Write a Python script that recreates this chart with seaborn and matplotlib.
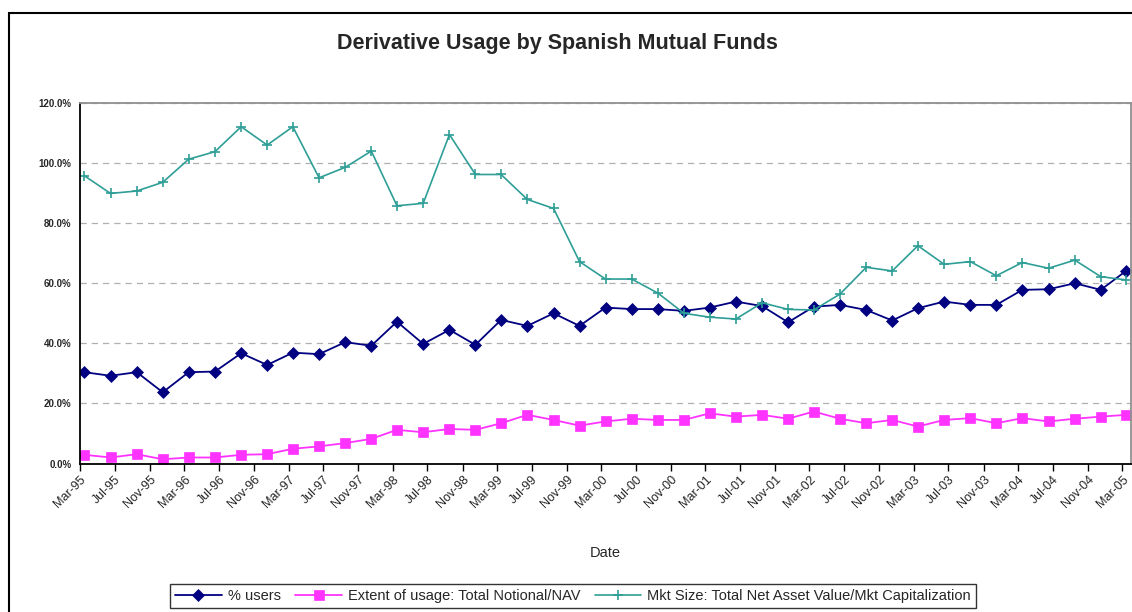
import matplotlib
matplotlib.use("Agg")
import matplotlib.pyplot as plt
import matplotlib.dates as mdates
from matplotlib.patches import Rectangle
from matplotlib.ticker import FuncFormatter, MultipleLocator
import seaborn as sns
import pandas as pd
import numpy as np

# ---- data (quarterly, Mar-95 .. Mar-05) ----
quarters = pd.date_range("1995-03-01", "2005-03-01", freq="3MS")
pct_users = [30.4, 29.2, 30.4, 23.7, 30.4, 30.6, 36.7, 32.8, 36.9, 36.4,
             40.4, 39.2, 47.2, 39.8, 44.5, 39.5, 47.8, 45.8, 50.0, 45.8,
             51.9, 51.4, 51.4, 50.8, 51.9, 53.9, 52.4, 47.0, 52.2, 52.8,
             51.1, 47.6, 51.7, 53.9, 52.8, 52.8, 57.8, 58.0, 60.0, 57.8, 64.2]
extent_usage = [2.9, 2.0, 3.1, 1.4, 2.0, 2.0, 2.9, 3.1, 4.9, 5.7,
                6.8, 8.2, 11.2, 10.4, 11.5, 11.2, 13.4, 16.2, 14.5, 12.6,
                14.0, 14.9, 14.5, 14.5, 16.7, 15.6, 16.2, 14.9, 17.3, 14.9,
                13.4, 14.5, 12.3, 14.5, 15.1, 13.4, 15.1, 14.0, 14.9, 15.6, 16.2]
mkt_size = [95.8, 89.9, 90.7, 93.6, 101.3, 103.8, 112.1, 106.0, 112.1, 95.1,
            98.6, 104.0, 85.8, 86.6, 109.5, 96.2, 96.2, 87.9, 84.9, 67.2,
            61.4, 61.4, 56.7, 50.0, 48.7, 48.1, 53.5, 51.3, 51.1, 56.4,
            65.3, 64.1, 72.5, 66.3, 67.2, 62.5, 66.9, 65.0, 67.7, 62.2, 61.1]
series_names = ["% users", "Extent of usage: Total Notional/NAV",
                "Mkt Size: Total Net Asset Value/Mkt Capitalization"]

df = pd.DataFrame({"Date": quarters + pd.Timedelta(days=15),
                   series_names[0]: pct_users,
                   series_names[1]: extent_usage,
                   series_names[2]: mkt_size})

sns.set_style("white")
plt.rcParams["font.family"] = ["Liberation Sans", "DejaVu Sans"]

W, H = 1132, 612
fig = plt.figure(figsize=(W / 100, H / 100), dpi=100)
ax = fig.add_axes([80 / W, 1 - 463.5 / H, (1131 - 80) / W, (463.5 - 103) / H])

colors = ["#000080", "#FF33FF", "#2E9E96"]
markers = ["D", "s", "+"]
msizes = [6.5, 7, 7]
lws = [1.3, 1.3, 1.2]
for name, c, m, ms, lw in zip(series_names, colors, markers, msizes, lws):
    sns.lineplot(data=df, x="Date", y=name, ax=ax, color=c, marker=m,
                 markersize=ms, linewidth=lw, markeredgecolor=c,
                 markeredgewidth=1.2 if m == "+" else 0.5, label=name)

ax.set_xlim(pd.Timestamp("1995-03-01"), pd.Timestamp("2005-04-01"))
ax.set_ylim(0, 120)
ax.yaxis.set_major_locator(MultipleLocator(20))
ax.yaxis.set_major_formatter(FuncFormatter(lambda v, p: f"{v:.1f}%"))
ax.xaxis.set_major_locator(mdates.MonthLocator(bymonth=[3, 7, 11]))
ax.xaxis.set_major_formatter(mdates.DateFormatter("%b-%y"))

ax.grid(axis="y", color="#b0b0b0", linestyle=(0, (5, 4)), linewidth=0.9)
ax.grid(axis="x", visible=False)
for s in ["left", "bottom"]:
    ax.spines[s].set_color("black")
    ax.spines[s].set_linewidth(1.3)
for s in ["top", "right"]:
    ax.spines[s].set_color("#909090")
    ax.spines[s].set_linewidth(1.3)

ax.tick_params(axis="y", direction="out", length=4, width=1, color="black",
               labelsize=7, pad=2)
ax.tick_params(axis="x", direction="out", length=5, width=1, color="black",
               labelsize=9, pad=2, bottom=True)
for t in ax.get_yticklabels():
    t.set_fontweight("bold")
plt.setp(ax.get_xticklabels(), rotation=45, ha="right", rotation_mode="anchor")

ax.set_ylabel("")
ax.set_xlabel("Date", fontsize=10.5, labelpad=26)

fig.suptitle("Derivative Usage by Spanish Mutual Funds", x=557 / W, y=1 - 44 / H,
             fontsize=15.5, fontweight="bold", va="center")

leg = ax.legend(loc="center", bbox_to_anchor=(573 / W, 1 - 596 / H),
                bbox_transform=fig.transFigure, ncol=3, fontsize=10.5,
                frameon=True, fancybox=False, edgecolor="black",
                handlelength=3.2, columnspacing=1.0, handletextpad=0.4,
                borderpad=0.35)
leg.get_frame().set_linewidth(1.0)

fig.patches.append(Rectangle((8.5 / W, -0.01), 1.0, 1 - 12.5 / H + 0.01,
                             transform=fig.transFigure, fill=False,
                             edgecolor="black", linewidth=1.5))

fig.savefig("out.png", dpi=100)
